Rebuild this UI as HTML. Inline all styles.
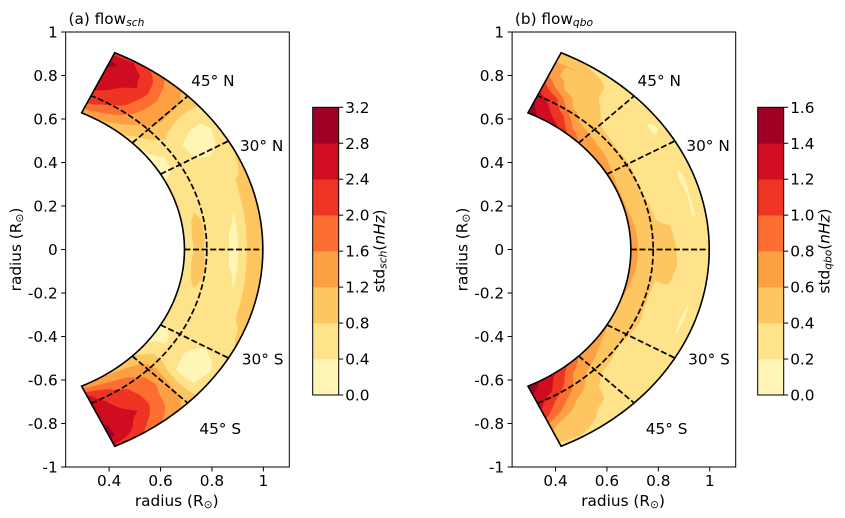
<!DOCTYPE html>
<html lang="en">
<head>
<meta charset="utf-8">
<title>Flow standard deviation</title>
<style>
html,body{margin:0;padding:0;background:#fff;width:845px;height:518px;overflow:hidden}
svg{display:block}
text{font-family:"DejaVu Sans","Liberation Sans",sans-serif;fill:#000}
</style>
</head>
<body>
<svg id="figure" xmlns="http://www.w3.org/2000/svg" width="845" height="518" viewBox="0 0 845 518"></svg>
<script>
// ---- chart data ----
const radii = [0.693, 0.75, 0.80, 0.85, 0.90, 0.95, 0.998];
const latitudes = [65,60,55,50,45,40,35,30,25,20,15,10,5,0,-5,-10,-15,-20,-25,-30,-35,-40,-45,-50,-55,-60,-65];
const stdSch = [
  [1.30,2.10,2.35,2.60,2.70,2.90,2.20],
  [1.20,1.85,2.25,2.38,2.55,2.65,2.35],
  [1.00,1.55,1.95,2.15,2.38,2.25,1.90],
  [0.85,1.20,1.45,1.60,1.65,1.55,1.40],
  [0.50,0.95,1.20,1.30,1.25,1.22,1.05],
  [0.33,0.65,0.85,0.65,0.50,0.50,0.70],
  [0.30,0.40,0.50,0.36,0.28,0.30,0.50],
  [0.30,0.42,0.50,0.38,0.33,0.42,0.70],
  [0.45,0.55,0.60,0.55,0.55,0.65,0.85],
  [0.50,0.65,0.60,0.60,0.60,0.80,0.85],
  [0.55,0.72,0.60,0.60,0.52,0.85,0.85],
  [0.60,0.90,0.65,0.50,0.38,0.90,0.85],
  [0.60,0.95,0.62,0.42,0.36,0.95,0.85],
  [0.60,0.90,0.60,0.42,0.36,0.95,0.85],
  [0.60,0.98,0.62,0.42,0.36,0.95,0.85],
  [0.60,0.92,0.65,0.50,0.38,0.90,0.85],
  [0.55,0.75,0.60,0.55,0.45,0.85,0.85],
  [0.55,0.65,0.60,0.60,0.60,0.80,0.85],
  [0.45,0.55,0.60,0.60,0.60,0.70,0.85],
  [0.38,0.42,0.50,0.45,0.40,0.50,0.70],
  [0.32,0.38,0.55,0.36,0.28,0.30,0.50],
  [0.42,0.80,0.75,0.42,0.33,0.38,0.60],
  [0.85,1.25,1.45,1.45,1.30,1.20,1.05],
  [1.00,1.50,1.75,1.85,1.75,1.65,1.40],
  [1.10,1.75,2.10,2.20,2.38,2.05,1.75],
  [1.20,2.05,2.35,2.45,2.60,2.50,2.20],
  [1.30,2.50,2.65,2.45,2.85,2.90,2.30]
];
const stdQbo = [
  [1.50,1.40,1.20,1.00,0.65,0.60,0.40],
  [1.35,1.20,1.05,0.62,0.55,0.60,0.40],
  [1.25,1.00,0.62,0.52,0.50,0.50,0.32],
  [1.00,0.65,0.50,0.45,0.38,0.35,0.28],
  [0.78,0.60,0.42,0.35,0.30,0.28,0.18],
  [0.72,0.57,0.38,0.30,0.30,0.22,0.20],
  [0.70,0.55,0.35,0.30,0.30,0.18,0.22],
  [0.65,0.50,0.38,0.30,0.30,0.25,0.25],
  [0.62,0.50,0.35,0.30,0.28,0.22,0.28],
  [0.62,0.48,0.35,0.30,0.28,0.17,0.30],
  [0.62,0.50,0.38,0.32,0.30,0.19,0.28],
  [0.65,0.50,0.40,0.38,0.30,0.18,0.30],
  [0.68,0.50,0.42,0.42,0.30,0.25,0.30],
  [0.70,0.50,0.42,0.45,0.32,0.30,0.30],
  [0.68,0.50,0.42,0.45,0.35,0.30,0.25],
  [0.65,0.50,0.40,0.42,0.30,0.25,0.18],
  [0.62,0.50,0.38,0.30,0.28,0.20,0.25],
  [0.60,0.50,0.38,0.30,0.28,0.18,0.30],
  [0.60,0.52,0.40,0.32,0.28,0.20,0.30],
  [0.60,0.50,0.38,0.30,0.30,0.28,0.28],
  [0.65,0.47,0.35,0.30,0.28,0.22,0.25],
  [0.72,0.55,0.40,0.30,0.30,0.20,0.20],
  [0.78,0.62,0.42,0.32,0.30,0.30,0.20],
  [1.00,0.70,0.60,0.45,0.42,0.32,0.25],
  [1.20,1.02,0.80,0.55,0.45,0.42,0.30],
  [1.35,1.25,1.00,0.80,0.50,0.60,0.35],
  [1.55,1.35,1.25,1.05,0.65,0.50,0.32]
];
const schLevels = [0.0,0.4,0.8,1.2,1.6,2.0,2.4,2.8,3.2];
const qboLevels = [0.0,0.2,0.4,0.6,0.8,1.0,1.2,1.4,1.6];
const bandColors = ["#fff6b6","#fee38b","#fec661","#fda044","#fd6e33","#ef3423","#d00d21","#9f0026"];
const xTicks = [0.4,0.6,0.8,1];
const xTickLabels = ["0.4","0.6","0.8","1"];
const yTicks = [1,0.8,0.6,0.4,0.2,0,-0.2,-0.4,-0.6,-0.8,-1];
const yTickLabels = ["1","0.8","0.6","0.4","0.2","0","-0.2","-0.4","-0.6","-0.8","-1"];
const latitudeLines = [45,30,0,-30,-45];
const latitudeNames = ["45° N","30° N","30° S","45° S"];
const latitudeNameX = [0.719,0.909,0.916,0.751];
const latitudeNameY = [0.752,0.453,-0.528,-0.849];

// ---- drawing ----
const NS = "http://www.w3.org/2000/svg";
const figure = document.getElementById("figure");
const AXIS = {xMin:0.231,xMax:1.101,yMin:-1,yMax:1,left:65.7,right:289.3,top:32,bottom:467};
const RMIN = radii[0], RMAX = radii[radii.length-1], LATMAX = latitudes[0];
const DASHED_RADIUS = 0.78;

function mk(tag, attrs, parent){
  const e = document.createElementNS(NS, tag);
  for (const k in attrs) e.setAttribute(k, attrs[k]);
  parent.appendChild(e);
  return e;
}
function sub(parent, str, attrs){
  const t = mk("tspan", attrs || {}, parent);
  t.textContent = str;
  return t;
}
function bilinear(field, fi, fj){
  const i = Math.min(Math.floor(fi), field.length-2), j = Math.min(Math.floor(fj), field[0].length-2);
  const a = fi-i, b = fj-j;
  return (1-a)*((1-b)*field[i][j]+b*field[i][j+1]) + a*((1-b)*field[i+1][j]+b*field[i+1][j+1]);
}

function drawPanel(cfg){
  const g = mk("g", {}, figure);
  
  
  const ox = cfg.offset;
  const sx = v => ox + AXIS.left + (v-AXIS.xMin)/(AXIS.xMax-AXIS.xMin)*(AXIS.right-AXIS.left);
  const sy = v => AXIS.bottom - (v-AXIS.yMin)/(AXIS.yMax-AXIS.yMin)*(AXIS.bottom-AXIS.top);
  const px = (r,lat) => sx(r*Math.cos(lat*Math.PI/180));
  const py = (r,lat) => sy(r*Math.sin(lat*Math.PI/180));
  const pt = (r,lat) => px(r,lat).toFixed(2)+" "+py(r,lat).toFixed(2);

  // wedge outline
  let wedge = "";
  for (let lat=-LATMAX; lat<=LATMAX; lat+=1) wedge += (wedge?"L":"M")+pt(RMAX,lat);
  for (let lat=LATMAX; lat>=-LATMAX; lat-=1) wedge += "L"+pt(RMIN,lat);
  wedge += "Z";

  const clip = mk("clipPath", {id:"clip-"+cfg.id}, g);
  mk("path", {d:wedge}, clip);

  // filled contour bands, computed from the field on the (radius, latitude) grid
  const bands = mk("g", {"clip-path":"url(#clip-"+cfg.id+")"}, g);
  
  
  const nLat = latitudes.length, nRad = radii.length, upLat = 5, upRad = 4;
  const cols = (nLat-1)*upLat, rows = (nRad-1)*upRad;
  const fine = [];
  for (let i=0;i<=cols;i++){
    const row = [];
    for (let j=0;j<=rows;j++) row.push(bilinear(cfg.field, i/upLat, j/upRad));
    fine.push(row);
  }
  const latAt = fi => { const i=Math.min(Math.floor(fi),nLat-2); return latitudes[i]+(fi-i)*(latitudes[i+1]-latitudes[i]); };
  const radAt = fj => { const j=Math.min(Math.floor(fj),nRad-2); return radii[j]+(fj-j)*(radii[j+1]-radii[j]); };
  bandColors.forEach((color,k)=>{
    const level = cfg.levels[k];
    let d = "";
    for (let i=0;i<cols;i++) for (let j=0;j<rows;j++){
      const corners = [[i,j],[i+1,j],[i+1,j+1],[i,j+1]];
      const vals = corners.map(c=>k===0?Infinity:fine[c[0]][c[1]]);
      if (vals.every(v=>v<level)) continue;
      const poly = [];
      for (let c=0;c<4;c++){
        const n=(c+1)%4, va=vals[c], vb=vals[n], A=corners[c], B=corners[n];
        if (va>=level) poly.push(A);
        if ((va>=level)!==(vb>=level)){
          const t=(level-va)/(vb-va);
          poly.push([A[0]+t*(B[0]-A[0]),A[1]+t*(B[1]-A[1])]);
        }
      }
      poly.forEach((p,idx)=>{ d += (idx?"L":"M")+pt(radAt(p[1]/upRad),latAt(p[0]/upLat)); });
      d += "Z";
    }
    if (!d) return;
    const band = mk("path", {d:d,fill:color,stroke:color,"stroke-width":0.5}, bands);
    
    
  });

  // dashed guides
  const guides = mk("g", {fill:"none",stroke:"#000","stroke-width":1.7,"stroke-dasharray":"6 2.6"}, g);
  
  
  let arc = "";
  for (let lat=-LATMAX; lat<=LATMAX; lat+=1) arc += (arc?"L":"M")+pt(DASHED_RADIUS,lat);
  const arcPath = mk("path", {d:arc}, guides);
  
  
  latitudeLines.forEach(lat=>{
    const line = mk("path", {d:"M"+pt(RMIN,lat)+"L"+pt(RMAX,lat)}, guides);
    
    
  });

  const outline = mk("path", {d:wedge,fill:"none",stroke:"#000","stroke-width":1.6,"stroke-linejoin":"miter"}, g);
  
  

  // frame
  const frame = mk("rect", {x:ox+AXIS.left,y:AXIS.top,width:AXIS.right-AXIS.left,height:AXIS.bottom-AXIS.top,fill:"none",stroke:"#000","stroke-width":1}, g);
  
  

  // ticks
  xTicks.forEach((v,i)=>{
    const x = sx(v);
    const tick = mk("line", {x1:x,x2:x,y1:AXIS.bottom,y2:AXIS.bottom+4.5,stroke:"#000","stroke-width":1}, g);
    
    
    const label = mk("text", {x:x,y:486,"text-anchor":"middle","font-size":15.3}, g);
    
    
    label.textContent = xTickLabels[i];
  });
  yTicks.forEach((v,i)=>{
    const y = sy(v);
    const tick = mk("line", {x1:ox+AXIS.left-4.5,x2:ox+AXIS.left,y1:y,y2:y,stroke:"#000","stroke-width":1}, g);
    
    
    const label = mk("text", {x:ox+AXIS.left-8,y:y+5.5,"text-anchor":"end","font-size":15.3}, g);
    
    
    label.textContent = yTickLabels[i];
  });

  // axis titles
  const xt = mk("text", {x:ox+176.7,y:506,"text-anchor":"middle","font-size":15.3}, g);
  
  
  sub(xt, "radius (R");
  sub(xt, "⊙", {"font-size":10.7,dy:2});
  sub(xt, ")", {dy:-2});
  const yt = mk("text", {transform:"translate("+(ox+21)+",249.5) rotate(-90)","text-anchor":"middle","font-size":15.3}, g);
  
  
  sub(yt, "radius (R");
  sub(yt, "⊙", {"font-size":10.7,dy:2});
  sub(yt, ")", {dy:-2});

  // panel title
  const title = mk("text", {x:ox+68.5,y:24,"font-size":15.3}, g);
  
  
  sub(title, cfg.letter + " flow");
  sub(title, cfg.sub, {"font-size":10.7,"font-style":"italic",dy:2});

  // latitude annotations
  latitudeNames.forEach((name,i)=>{
    const t = mk("text", {x:sx(latitudeNameX[i]),y:sy(latitudeNameY[i]),"font-size":15.3}, g);
    
    
    t.textContent = name;
  });

  // colorbar
  const cb = mk("g", {}, g);
  
  
  const cbL = cfg.cbLeft, cbR = cfg.cbLeft+26, cbT = 107.3, cbB = 395;
  const lv = cfg.levels;
  const cy = v => cbB-(v-lv[0])/(lv[lv.length-1]-lv[0])*(cbB-cbT);
  bandColors.forEach((c,k)=>{
    const seg = mk("rect", {x:cbL,y:cy(lv[k+1]),width:cbR-cbL,height:cy(lv[k])-cy(lv[k+1])+0.3,fill:c}, cb);
    
    
  });
  const cbFrame = mk("rect", {x:cbL,y:cbT,width:cbR-cbL,height:cbB-cbT,fill:"none",stroke:"#000","stroke-width":1}, cb);
  
  
  lv.forEach(v=>{
    const y = cy(v);
    const tick = mk("line", {x1:cbR,x2:cbR+4.5,y1:y,y2:y,stroke:"#000","stroke-width":1}, cb);
    
    
    const label = mk("text", {x:cbR+6.5,y:y+5.5,"font-size":15.3}, cb);
    
    
    label.textContent = v.toFixed(1);
  });
  const cl = mk("text", {transform:"translate("+(cbL+72)+",251) rotate(-90)","text-anchor":"middle","font-size":15.3}, cb);
  
  
  sub(cl, "std");
  sub(cl, cfg.sub, {"font-size":10.7,"font-style":"italic",dy:2});
  sub(cl, "(", {dy:-2});
  sub(cl, "nHz", {"font-style":"italic"});
  sub(cl, ")");
}

drawPanel({id:"panel-a",letter:"(a)",sub:"sch",offset:0,field:stdSch,levels:schLevels,cbLeft:312.7});
drawPanel({id:"panel-b",letter:"(b)",sub:"qbo",offset:446.4,field:stdQbo,levels:qboLevels,cbLeft:757.7});
</script>
</body>
</html>
